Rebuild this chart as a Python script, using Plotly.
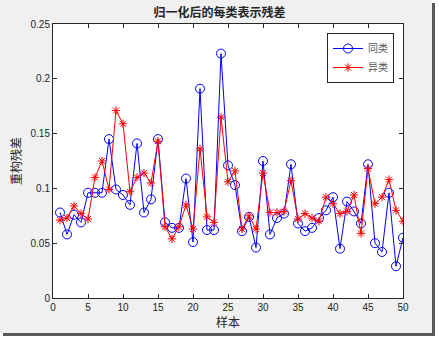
import plotly.graph_objects as go

# Sample index and normalised residuals for each class
samples = list(range(1, 51))
same_class = [0.078, 0.058, 0.076, 0.069, 0.096, 0.096, 0.096, 0.145, 0.099, 0.094,
              0.085, 0.141, 0.078, 0.090, 0.145, 0.069, 0.064, 0.064, 0.109, 0.051,
              0.191, 0.062, 0.062, 0.223, 0.121, 0.103, 0.061, 0.074, 0.046, 0.125,
              0.058, 0.073, 0.077, 0.122, 0.068, 0.061, 0.064, 0.073, 0.080, 0.092,
              0.045, 0.088, 0.079, 0.068, 0.122, 0.050, 0.042, 0.096, 0.029, 0.055]
other_class = [0.071, 0.073, 0.084, 0.077, 0.072, 0.110, 0.125, 0.099, 0.171, 0.159,
               0.097, 0.110, 0.114, 0.105, 0.143, 0.065, 0.054, 0.065, 0.085, 0.063,
               0.136, 0.074, 0.069, 0.165, 0.106, 0.116, 0.063, 0.075, 0.063, 0.114,
               0.078, 0.078, 0.079, 0.107, 0.072, 0.077, 0.073, 0.070, 0.092, 0.086,
               0.077, 0.079, 0.094, 0.059, 0.118, 0.086, 0.092, 0.108, 0.080, 0.070]

x_ticks = list(range(0, 51, 5))
y_ticks = [0, 0.05, 0.1, 0.15, 0.2, 0.25]

tick_font = dict(family="Liberation Sans, Arial, sans-serif", size=10, color="#262626")
cjk = "Noto Sans CJK SC"

fig = go.Figure()
fig.add_trace(go.Scatter(
    x=samples, y=same_class, name="同类", mode="lines+markers",
    line=dict(color="#0000ff", width=1),
    marker=dict(symbol="circle-open", size=9, color="#0000ff", line=dict(width=1)),
))
fig.add_trace(go.Scatter(
    x=samples, y=other_class, name="异类", mode="lines+markers",
    line=dict(color="#ff0000", width=1),
    marker=dict(symbol="asterisk-open", size=7, color="#ff0000", line=dict(width=1)),
))

# figure window: shadow, grey panel, white axes area
W, H = 439, 339
L, R, T, B = 53, 36, 24, 41
pw, ph = W - L - R, H - T - B

def px(x):
    return (x - L) / pw

def py(y):
    return (H - B - y) / ph

shapes = [
    dict(type="rect", xref="paper", yref="paper", layer="below",
         x0=px(3), x1=px(435), y0=py(336), y1=py(3),
         fillcolor="#5a5a5a", line=dict(width=0)),
    dict(type="rect", xref="paper", yref="paper", layer="below",
         x0=px(0), x1=px(432), y0=py(333), y1=py(0),
         fillcolor="#f0f0f0", line=dict(width=0)),
    dict(type="rect", xref="paper", yref="paper", layer="below",
         x0=0, x1=1, y0=0, y1=1, fillcolor="white", line=dict(width=0)),
]

axis_common = dict(
    showline=True, linecolor="#262626", linewidth=1, mirror="ticks",
    ticks="inside", ticklen=4, tickcolor="#262626", tickwidth=1,
    showgrid=False, zeroline=False, tickfont=tick_font,
)

fig.update_layout(
    width=W, height=H,
    margin=dict(l=L, r=R, t=T, b=B),
    paper_bgcolor="white", plot_bgcolor="white",
    shapes=shapes,
    title=dict(text="<b>归一化后的每类表示残差</b>", x=px(228), xanchor="center",
               y=1 - 13 / H, yanchor="middle",
               font=dict(family=cjk, size=12, color="#262626")),
    xaxis=dict(range=[0, 50], tickvals=x_ticks, **axis_common,
               title=dict(text="样本", standoff=3,
                          font=dict(family=cjk, size=12, color="#262626"))),
    yaxis=dict(range=[0, 0.25], tickvals=y_ticks, **axis_common,
               title=dict(text="重构残差", standoff=6,
                          font=dict(family=cjk, size=12, color="#262626"))),
    legend=dict(x=px(327), y=py(33), xanchor="left", yanchor="top",
                bgcolor="white", bordercolor="#262626", borderwidth=1,
                font=dict(family=cjk, size=10, color="#555555"),
                tracegroupgap=0, itemwidth=30),
    showlegend=True,
)

fig.write_html("out.html")
